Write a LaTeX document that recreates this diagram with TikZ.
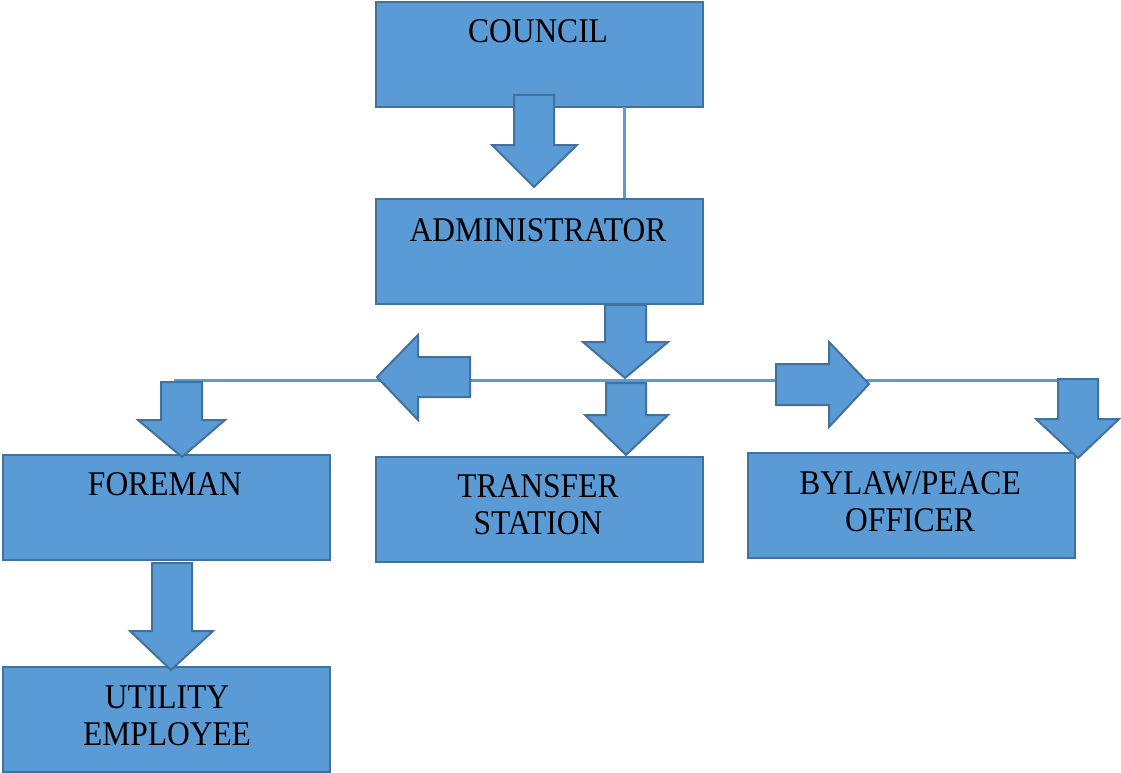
\documentclass[tikz,border=0pt]{standalone}
\usepackage{fontspec}
\setmainfont{Liberation Serif}
\definecolor{boxfill}{HTML}{5B9BD5}
\definecolor{boxline}{HTML}{41719C}
\newcommand\tallt[1]{\scalebox{1}[1.1]{#1}}
\begin{document}
\begin{tikzpicture}[x=1pt,y=-1pt,
  box/.style={draw=boxline,fill=boxfill,line width=2pt,minimum width=327pt,minimum height=105pt,inner sep=0pt,anchor=north west},
  lbl/.style={font=\fontsize{31.5}{37}\selectfont,align=center,anchor=base,inner sep=0pt},
  blk/.style={draw=boxline,fill=boxfill,line width=2pt,line join=miter},
  conn/.style={draw=boxfill,line width=3pt}]
\useasboundingbox (0,0) rectangle (1121,773);
% boxes
\node[box] (council) at (375,1) {};
\node[box] (admin) at (375,198) {};
\node[box] (foreman) at (2,454) {};
\node[box] (transfer) at (375,456) {};
\node[box] (bylaw) at (747,452) {};
\node[box] (utility) at (2,666) {};
% labels
\node[lbl] (councilT) at (538,43) {\tallt{COUNCIL}};
\node[lbl] (adminT) at (538,241) {\tallt{ADMINISTRATOR}};
\node[lbl] (foremanT) at (165,495) {\tallt{FOREMAN}};
\node[lbl] (transferT) at (538,534) {\tallt{TRANSFER}\\\tallt{STATION}};
\node[lbl] (bylawT) at (910,531) {\tallt{BYLAW/PEACE}\\\tallt{OFFICER}};
\node[lbl] (utilityT) at (167,745) {\tallt{UTILITY}\\\tallt{EMPLOYEE}};
% thin connectors
\coordinate (cv) at (624,107);
\draw[conn] (cv) -- (cv |- admin.north);
\coordinate (hl) at (174,380);
\coordinate (hr) at (1060,380);
\draw[conn] (hl) -- (hr);
% block arrows
% council -> admin
\draw[blk] (514,95) -- (554,95) -- (554,145) -- (577,145) -- (534,187) -- (492,145) -- (514,145) -- cycle;
% admin -> line
\draw[blk] (605,305) -- (646,305) -- (646,342) -- (668,342) -- (625,378) -- (583,342) -- (605,342) -- cycle;
% line -> transfer
\draw[blk] (606,383) -- (646,383) -- (646,415) -- (668,415) -- (626,455) -- (585,415) -- (606,415) -- cycle;
% left arrow
\draw[blk] (470,357) -- (470,397) -- (418,397) -- (418,420) -- (377,377) -- (418,335) -- (418,357) -- cycle;
% right arrow
\draw[blk] (776,364) -- (829,364) -- (829,342) -- (869,384) -- (829,427) -- (829,405) -- (776,405) -- cycle;
% foreman arrow
\draw[blk] (161,382) -- (202,382) -- (202,420) -- (225,420) -- (182,457) -- (138,420) -- (161,420) -- cycle;
% bylaw arrow
\draw[blk] (1058,379) -- (1098,379) -- (1098,419) -- (1119,419) -- (1078,458) -- (1036,419) -- (1058,419) -- cycle;
% foreman -> utility
\draw[blk] (152,563) -- (192,563) -- (192,631) -- (213,631) -- (171,670) -- (130,631) -- (152,631) -- cycle;
\end{tikzpicture}
\end{document}
